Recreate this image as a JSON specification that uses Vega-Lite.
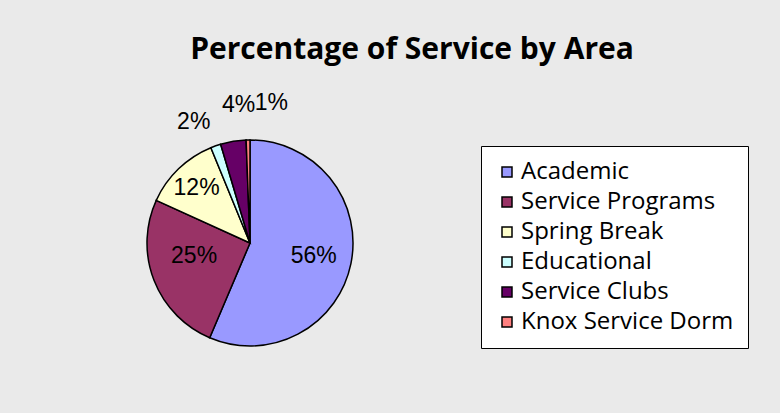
{
  "$schema": "https://vega.github.io/schema/vega-lite/v6.json",
  "width": 206,
  "height": 206,
  "autosize": "none",
  "padding": {"left": 147, "top": 140, "right": 427, "bottom": 67},
  "background": "#eaeaea",
  "title": {
    "text": "Percentage of Service by Area",
    "font": "Open Sans",
    "fontSize": 30,
    "fontWeight": "bold",
    "color": "#000000",
    "anchor": "middle",
    "frame": "group",
    "dx": 162,
    "offset": 27
  },
  "data": {
    "values": [
      {"area": "Academic", "value": 56.4, "label": "56%", "order": 1},
      {"area": "Service Programs", "value": 25.4, "label": "25%", "order": 2},
      {"area": "Spring Break", "value": 12.0, "label": "12%", "order": 3},
      {"area": "Educational", "value": 1.6, "label": "2%", "order": 4},
      {"area": "Service Clubs", "value": 4.0, "label": "4%", "order": 5},
      {"area": "Knox Service Dorm", "value": 0.6, "label": "1%", "order": 6}
    ]
  },
  "encoding": {
    "theta": {"field": "value", "type": "quantitative", "stack": true},
    "order": {"field": "order", "type": "quantitative"}
  },
  "layer": [
    {
      "mark": {"type": "arc", "stroke": "#000000", "strokeWidth": 1.5},
      "encoding": {
        "color": {
          "field": "area",
          "type": "nominal",
          "scale": {
            "domain": ["Academic", "Service Programs", "Spring Break", "Educational", "Service Clubs", "Knox Service Dorm"],
            "range": ["#9999ff", "#993366", "#ffffcc", "#ccffff", "#660066", "#ff8080"]
          },
          "legend": {
            "orient": "none",
            "legendX": 334,
            "legendY": 6,
            "title": null,
            "fillColor": "#ffffff",
            "strokeColor": "#000000",
            "padding": 14,
            "labelFont": "Open Sans",
            "labelFontSize": 24,
            "labelColor": "#000000",
            "labelLimit": 400,
            "labelOffset": 2,
            "symbolType": "square",
            "symbolSize": 100,
            "symbolStrokeColor": "#000000",
            "symbolStrokeWidth": 1.5,
            "symbolOpacity": 1,
            "rowPadding": 6
          }
        }
      }
    },
    {
      "mark": {"type": "text", "radius": 65, "font": "Liberation Sans", "fontSize": 23, "color": "#000000"},
      "encoding": {"text": {"condition": {"test": "datum.area == 'Academic'", "field": "label"}, "value": ""}}
    },
    {
      "mark": {"type": "text", "radius": 60, "dx": 0, "dy": -9, "font": "Liberation Sans", "fontSize": 23, "color": "#000000"},
      "encoding": {"text": {"condition": {"test": "datum.area == 'Service Programs'", "field": "label"}, "value": ""}}
    },
    {
      "mark": {"type": "text", "radius": 77, "font": "Liberation Sans", "fontSize": 23, "color": "#000000"},
      "encoding": {"text": {"condition": {"test": "datum.area == 'Spring Break'", "field": "label"}, "value": ""}}
    },
    {
      "mark": {"type": "text", "radius": 130, "dx": -13, "dy": 2, "font": "Liberation Sans", "fontSize": 23, "color": "#000000"},
      "encoding": {"text": {"condition": {"test": "datum.area == 'Educational'", "field": "label"}, "value": ""}}
    },
    {
      "mark": {"type": "text", "radius": 138, "dx": 11, "dy": -2, "font": "Liberation Sans", "fontSize": 23, "color": "#000000"},
      "encoding": {"text": {"condition": {"test": "datum.area == 'Service Clubs'", "field": "label"}, "value": ""}}
    },
    {
      "mark": {"type": "text", "radius": 138, "dx": 24, "dy": -2, "font": "Liberation Sans", "fontSize": 23, "color": "#000000"},
      "encoding": {"text": {"condition": {"test": "datum.area == 'Knox Service Dorm'", "field": "label"}, "value": ""}}
    }
  ],
  "config": {"view": {"stroke": null}}
}
